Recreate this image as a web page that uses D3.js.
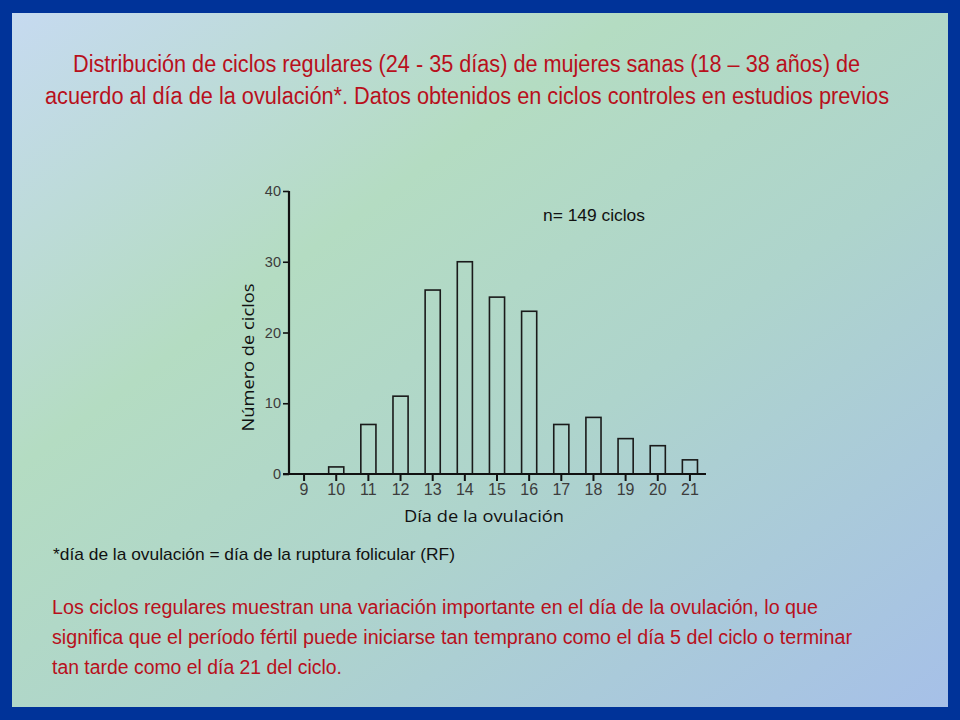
<!DOCTYPE html>
<html>
<head>
<meta charset="utf-8">
<script src="https://cdn.jsdelivr.net/npm/d3@7"></script>
<style>
  html, body { margin: 0; padding: 0; background: #003399; }
  svg { display: block; }
</style>
</head>
<body>
<script>
// ---- data ----
const days = [9, 10, 11, 12, 13, 14, 15, 16, 17, 18, 19, 20, 21];
const cycles = [0, 1, 7, 11, 26, 30, 25, 23, 7, 8, 5, 4, 2];
const yTicks = [0, 10, 20, 30, 40];
const titleLines = [
  "Distribución de ciclos regulares (24 - 35 días) de mujeres sanas (18 – 38 años) de",
  "acuerdo al día de la ovulación*. Datos obtenidos en ciclos controles en estudios previos"
];
const footnote = "*día de la ovulación = día de la ruptura folicular (RF)";
const paragraph = [
  "Los ciclos regulares muestran una variación importante en el día de la ovulación, lo que",
  "significa que el período fértil puede iniciarse tan temprano como el día 5 del ciclo o terminar",
  "tan tarde como el día 21 del ciclo."
];
const annotation = "n= 149 ciclos";
const yLabel = "Número de ciclos";
const xLabel = "Día de la ovulación";

const W = 960, H = 720;
const sans = "'Liberation Sans', Arial, sans-serif";
const calib = "'Open Sans', 'Noto Sans', sans-serif";
const red = "#b8101c";

const svg = d3.select("body").append("svg").attr("width", W).attr("height", H);

const defs = svg.append("defs");
const grad = defs.append("linearGradient").attr("id", "bg")
  .attr("x1", "0%").attr("y1", "0%").attr("x2", "100%").attr("y2", "100%");
grad.append("stop").attr("offset", "0%").attr("stop-color", "#c6daf0");
grad.append("stop").attr("offset", "33%").attr("stop-color", "#b4dcc2");
grad.append("stop").attr("offset", "60%").attr("stop-color", "#aed4cc");
grad.append("stop").attr("offset", "100%").attr("stop-color", "#a6c0e8");

svg.append("rect").attr("width", W).attr("height", H).attr("fill", "#003399");
svg.append("rect").attr("x", 12).attr("y", 13).attr("width", 936).attr("height", 694)
  .attr("fill", "url(#bg)");

// helper for condensed text lines: [x, width]
function narrowText(sel, spans) {
  sel.attr("textLength", (d, i) => spans[i][1]).attr("lengthAdjust", "spacingAndGlyphs")
     .attr("x", (d, i) => spans[i][0]);
}

// title
const titleSpans = [[73, 787], [45, 844]];
svg.append("g").selectAll("text").data(titleLines).join("text")
  .attr("y", (d, i) => 72 + i * 32)
  .attr("font-family", sans).attr("font-size", 23)
  .attr("fill", red).text(d => d)
  .call(narrowText, titleSpans);

// chart
const x = d3.scaleBand().domain(days).range([288, 706]).paddingInner(0.53).paddingOuter(0.265);
const y = d3.scaleLinear().domain([0, 40]).range([474, 191]);

const g = svg.append("g");

g.selectAll("rect.bar").data(days.filter((d, i) => cycles[i] > 0)).join("rect").attr("class", "bar")
  .attr("x", d => x(d))
  .attr("y", d => y(cycles[days.indexOf(d)]))
  .attr("width", x.bandwidth())
  .attr("height", d => y(0) - y(cycles[days.indexOf(d)]))
  .attr("fill", "none").attr("stroke", "#1a1a1a").attr("stroke-width", 1.6);

const yAxis = g.append("g").attr("transform", "translate(289,0)")
  .call(d3.axisLeft(y).tickValues(yTicks).tickSize(6).tickPadding(2));
yAxis.select(".domain").attr("d", `M0,${y(40)}H0V${y(0)}`).attr("stroke", "#111").attr("stroke-width", 2.2);
yAxis.selectAll(".tick line").attr("stroke", "#111").attr("stroke-width", 1.6);
yAxis.selectAll(".tick text").attr("font-family", sans)
  .attr("font-size", 14.5).attr("fill", "#3c3c3c");

const xAxis = g.append("g").attr("transform", `translate(0,${y(0)})`)
  .call(d3.axisBottom(x).tickSize(7).tickPadding(3));
xAxis.select(".domain").attr("d", `M283,0H706`).attr("stroke", "#111").attr("stroke-width", 2.2);
xAxis.selectAll(".tick line").attr("stroke", "#111").attr("stroke-width", 2);
xAxis.selectAll(".tick text").attr("font-family", sans)
  .attr("font-size", 16).attr("fill", "#3c3c3c");

svg.append("text").attr("transform", "translate(254,357.5) rotate(-90)")
  .attr("text-anchor", "middle").attr("font-family", calib)
  .attr("font-size", 16).attr("fill", "#111")
  .attr("textLength", 148).attr("lengthAdjust", "spacingAndGlyphs").text(yLabel);

svg.append("text").attr("x", 404).attr("y", 522)
  .attr("font-family", calib).attr("font-size", 16).attr("fill", "#111")
  .attr("textLength", 160).attr("lengthAdjust", "spacingAndGlyphs").text(xLabel);

svg.append("text").attr("x", 543).attr("y", 221)
  .attr("font-family", sans).attr("font-size", 16).attr("fill", "#111")
  .attr("textLength", 102).attr("lengthAdjust", "spacingAndGlyphs").text(annotation);

// footnote
svg.append("text").attr("x", 53).attr("y", 560)
  .attr("font-family", sans).attr("font-size", 17).attr("fill", "#111")
  .attr("textLength", 402).attr("lengthAdjust", "spacingAndGlyphs").text(footnote);

const paraSpans = [[52, 766], [52, 800], [52, 290]];
svg.append("g").selectAll("text").data(paragraph).join("text")
  .attr("y", (d, i) => 614 + i * 30)
  .attr("font-family", sans).attr("font-size", 19.5)
  .attr("fill", red).text(d => d)
  .call(narrowText, paraSpans);
</script>
</body>
</html>
